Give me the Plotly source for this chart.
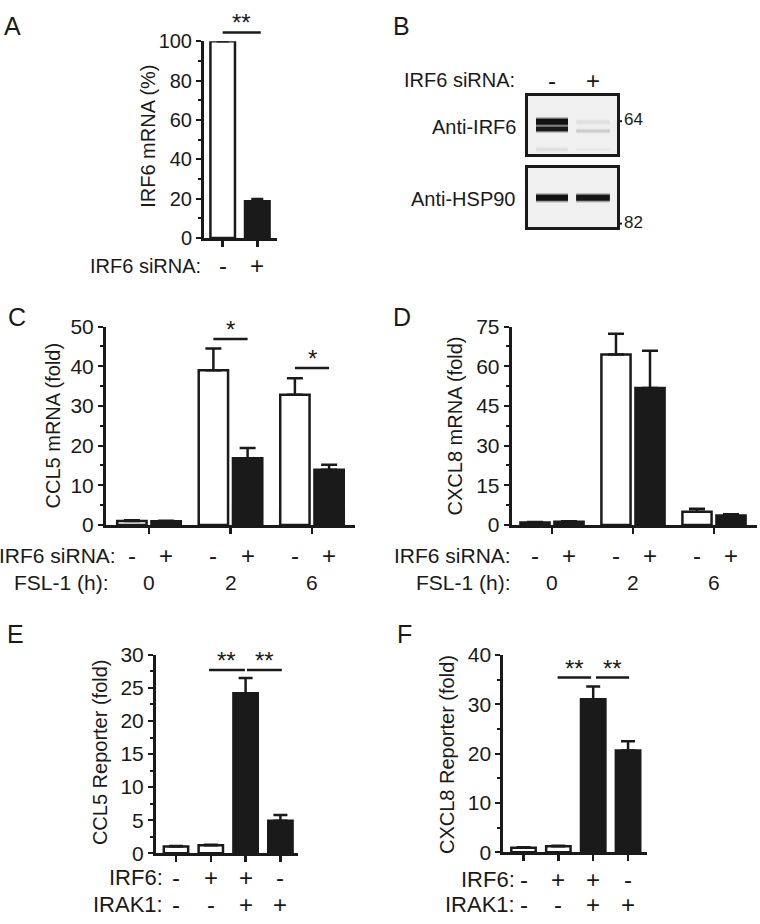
import plotly.graph_objects as go

W, H = 760, 924
FONT = "Liberation Sans, Arial, Helvetica, sans-serif"
INK = "#1a1a1a"

# ---------------- data ----------------
# Panel A: IRF6 mRNA (%)
a_sirna = ["-", "+"]
a_values = [100, 18.7]
a_err = [0, 1.1]
a_fill = ["white", INK]
a_sig = [(0.0, 1.1, 104.5, "**")]

# Panel C: CCL5 mRNA (fold)
c_fsl = ["0", "2", "6"]
c_ctrl = [1.0, 39.0, 32.8]
c_ctrl_err = [0.2, 5.5, 4.2]
c_si = [0.9, 16.8, 13.9]
c_si_err = [0.15, 2.6, 1.3]
c_sig = [(1, 46.9, "*"), (2, 39.6, "*")]

# Panel D: CXCL8 mRNA (fold)
d_fsl = ["0", "2", "6"]
d_ctrl = [0.9, 64.5, 5.0]
d_ctrl_err = [0.2, 7.8, 1.1]
d_si = [1.2, 51.8, 3.6]
d_si_err = [0.2, 14.1, 0.4]

# Panel E: CCL5 reporter (fold)
e_irf6 = ["-", "+", "+", "-"]
e_irak1 = ["-", "-", "+", "+"]
e_values = [1.0, 1.2, 24.2, 4.9]
e_err = [0.1, 0.1, 2.3, 0.9]
e_fill = ["white", "white", INK, INK]
e_sig = [(0.95, 1.98, 27.7, "**"), (2.04, 3.04, 27.7, "**")]

# Panel F: CXCL8 reporter (fold)
f_irf6 = ["-", "+", "+", "-"]
f_irak1 = ["-", "-", "+", "+"]
f_values = [0.9, 1.2, 31.0, 20.6]
f_err = [0.1, 0.1, 2.6, 1.9]
f_fill = ["white", "white", INK, INK]
f_sig = [(0.98, 1.94, 35.4, "**"), (2.08, 3.03, 35.4, "**")]

# Panel B: western blot (lane, migration position in box, band thickness, intensity)
b_sirna = ["-", "+"]
irf6_bands = [(0, 26.5, 5.5, 1.0), (0, 34.0, 4.0, 0.92), (1, 27.0, 3.5, 0.035),
              (1, 36.0, 2.5, 0.09), (0, 55.0, 2.5, 0.04), (1, 55.0, 2.0, 0.02)]
hsp90_bands = [(0, 30.0, 5.5, 1.0), (1, 30.0, 5.5, 0.95)]

GROUP_OFF = 0.21
GROUP_W = 0.36

# axis geometry (pixel domains and ranges)
A_DOM_Y, A_RANGE = (30, 231.7), [0, 100]
C_DOM_Y, C_RANGE = (322.7, 526), [0, 50]
D_DOM_Y, D_RANGE = (322.7, 526), [0, 75]
E_DOM_Y, E_RANGE = (659.3, 862.7), [0, 30]
F_DOM_Y, F_RANGE = (659.3, 861.7), [0, 40]


# ---------------- helpers ----------------
def xd(p0, p1):
    return [p0 / W, p1 / W]


def yd(top, bot):
    return [1 - bot / H, 1 - top / H]


def y_paper(dom_px, rng, val):
    d0, d1 = yd(*dom_px)
    return d0 + (val - rng[0]) / (rng[1] - rng[0]) * (d1 - d0)


def px_ann(text, xpx, ypx, size=20, xanchor="center", angle=0):
    return dict(text=text, x=xpx / W, y=1 - ypx / H, xref="paper", yref="paper",
                showarrow=False, xanchor=xanchor, yanchor="middle", textangle=angle,
                font=dict(family=FONT, size=size, color=INK))


def data_ann(text, xval, xref, ypx, size=24):
    return dict(text=text, x=xval, y=1 - ypx / H, xref=xref, yref="paper",
                showarrow=False, xanchor="center", yanchor="middle",
                font=dict(family=FONT, size=size, color=INK))


def bar(x, y, err, fill, width, ax, cap=7):
    return go.Bar(x=x, y=y, width=width, xaxis=ax[0], yaxis=ax[1],
                  marker=dict(color=fill, line=dict(color=INK, width=2.5)),
                  error_y=dict(type="data", array=err, arrayminus=[0] * len(err),
                               symmetric=False, color=INK, thickness=2.5, width=cap),
                  cliponaxis=False, showlegend=False, hoverinfo="skip")


shapes = []
ann = []


def sig(x0, x1, y, star, xref, dom_px, rng):
    yp = y_paper(dom_px, rng, y)
    shapes.append(dict(type="line", xref=xref, yref="paper", x0=x0, x1=x1, y0=yp, y1=yp,
                       line=dict(color=INK, width=2.5)))
    ann.append(dict(text=star, x=(x0 + x1) / 2, y=yp, xref=xref, yref="paper",
                    showarrow=False, xanchor="center", yanchor="bottom", yshift=-6,
                    font=dict(family=FONT, size=24, color=INK)))


fig = go.Figure()

# ---------------- Panel A ----------------
AX = ("x", "y")
fig.add_trace(bar(list(range(len(a_values))), a_values, a_err, a_fill, 0.71, AX, cap=6))
for x0, x1, y, s in a_sig:
    sig(x0, x1, y, s, "x", A_DOM_Y, A_RANGE)
ann.append(px_ann("IRF6 mRNA (%)", 148, 128, 20, angle=-90))
ann.append(px_ann("IRF6 siRNA:", 203, 260, 20, "right"))
for i, s in enumerate(a_sirna):
    ann.append(data_ann(s, i, "x", 260))

# ---------------- Panel C ----------------
CX = ("x2", "y2")
g = list(range(len(c_fsl)))
fig.add_trace(bar([k - GROUP_OFF for k in g], c_ctrl, c_ctrl_err, "white", GROUP_W, CX, cap=8))
fig.add_trace(bar([k + GROUP_OFF for k in g], c_si, c_si_err, INK, GROUP_W, CX, cap=8))
for k, y, s in c_sig:
    sig(k - GROUP_OFF, k + GROUP_OFF, y, s, "x2", C_DOM_Y, C_RANGE)
ann.append(px_ann("CCL5 mRNA (fold)", 53, 424, 20, angle=-90))
ann.append(px_ann("IRF6 siRNA:", 118, 557, 21, "right"))
ann.append(px_ann("FSL-1 (h):", 111, 585, 21, "right"))
for k, lab in enumerate(c_fsl):
    ann.append(data_ann("-", k - GROUP_OFF, "x2", 557))
    ann.append(data_ann("+", k + GROUP_OFF, "x2", 557))
    ann.append(data_ann(lab, k, "x2", 585, 21))

# ---------------- Panel D ----------------
DX = ("x3", "y3")
g = list(range(len(d_fsl)))
fig.add_trace(bar([k - GROUP_OFF for k in g], d_ctrl, d_ctrl_err, "white", GROUP_W, DX, cap=8))
fig.add_trace(bar([k + GROUP_OFF for k in g], d_si, d_si_err, INK, GROUP_W, DX, cap=8))
ann.append(px_ann("CXCL8 mRNA (fold)", 455, 425, 20, angle=-90))
ann.append(px_ann("IRF6 siRNA:", 513, 557, 21, "right"))
ann.append(px_ann("FSL-1 (h):", 513, 585, 21, "right"))
for k, lab in enumerate(d_fsl):
    ann.append(data_ann("-", k - GROUP_OFF, "x3", 557))
    ann.append(data_ann("+", k + GROUP_OFF, "x3", 557))
    ann.append(data_ann(lab, k, "x3", 585, 21))

# ---------------- Panel E ----------------
EX = ("x4", "y4")
fig.add_trace(bar(list(range(len(e_values))), e_values, e_err, e_fill, 0.70, EX))
for x0, x1, y, s in e_sig:
    sig(x0, x1, y, s, "x4", E_DOM_Y, E_RANGE)
ann.append(px_ann("CCL5 Reporter (fold)", 100, 759, 20, angle=-90))
ann.append(px_ann("IRF6:", 165, 888, 22, "right"))
ann.append(px_ann("IRAK1:", 165, 915, 22, "right"))
for i, (s1, s2) in enumerate(zip(e_irf6, e_irak1)):
    ann.append(data_ann(s1, i, "x4", 888))
    ann.append(data_ann(s2, i, "x4", 915))

# ---------------- Panel F ----------------
FX = ("x5", "y5")
fig.add_trace(bar(list(range(len(f_values))), f_values, f_err, f_fill, 0.70, FX))
for x0, x1, y, s in f_sig:
    sig(x0, x1, y, s, "x5", F_DOM_Y, F_RANGE)
ann.append(px_ann("CXCL8 Reporter (fold)", 447, 762, 20, angle=-90))
ann.append(px_ann("IRF6:", 517, 890, 22, "right"))
ann.append(px_ann("IRAK1:", 517, 915, 22, "right"))
for i, (s1, s2) in enumerate(zip(f_irf6, f_irak1)):
    ann.append(data_ann(s1, i, "x5", 890))
    ann.append(data_ann(s2, i, "x5", 915))


# ---------------- Panel B (blot) ----------------
def bands(blist, ax):
    out = []
    for lane, pos, thick, inten in blist:
        half = 0.39 if lane == 0 else 0.41
        for extra, alpha in ((4.0, 0.25 * inten), (1.5, 0.55 * inten), (0.0, 0.95 * inten)):
            out.append(go.Scatter(x=[lane - half, lane + half], y=[pos, pos], mode="lines",
                                  xaxis=ax[0], yaxis=ax[1],
                                  line=dict(color=f"rgba(15,15,15,{alpha:.3f})", width=thick + extra),
                                  showlegend=False, hoverinfo="skip"))
    return out


fig.add_traces(bands(irf6_bands, ("x6", "y6")))
fig.add_traces(bands(hsp90_bands, ("x7", "y7")))
ann.append(px_ann("IRF6 siRNA:", 517, 70, 20, "right"))
for i, s in enumerate(b_sirna):
    ann.append(data_ann(s, i, "x6", 70))
ann.append(px_ann("Anti-IRF6", 518, 118, 20, "right"))
ann.append(px_ann("Anti-HSP90", 518, 192, 20, "right"))
ann.append(px_ann("64", 622, 110, 17, "left"))
ann.append(px_ann("82", 622, 216, 17, "left"))

for ax in ("x6", "x7"):
    yax = "y" + ax[1:]
    shapes.append(dict(type="rect", xref=f"{ax} domain", yref=f"{yax} domain",
                       x0=0, x1=1, y0=0, y1=1, fillcolor="#f0f0f0", line=dict(width=0),
                       layer="below"))
for ypx in (112, 217):
    shapes.append(dict(type="line", xref="paper", yref="paper", x0=617 / W, x1=622 / W,
                       y0=1 - ypx / H, y1=1 - ypx / H, line=dict(color=INK, width=2)))

# ---------------- panel letters ----------------
for L, xp, yp in (("A", 2, 14), ("B", 391, 14), ("C", 6, 313), ("D", 391, 313),
                  ("E", 5, 638), ("F", 395, 638)):
    ann.append(px_ann(L, xp, yp, 25, "left"))


# ---------------- axes ----------------
def xaxis(dom, rng, tickvals, anchor):
    return dict(domain=xd(*dom), range=rng, showline=True, linecolor=INK, linewidth=3,
                ticks="outside", ticklen=6, tickwidth=2.5, tickcolor=INK,
                tickvals=tickvals, showticklabels=False, showgrid=False, zeroline=False,
                fixedrange=True, anchor=anchor)


def yaxis(dom, rng, dtick, anchor, size=20):
    return dict(domain=yd(*dom), range=rng, showline=True, linecolor=INK, linewidth=3,
                ticks="outside", ticklen=5, tickwidth=2, tickcolor=INK, dtick=dtick,
                tick0=0, tickfont=dict(family=FONT, size=size, color=INK),
                minor=dict(dtick=dtick / 2, ticklen=3, tickwidth=2, tickcolor=INK,
                           ticks="outside", showgrid=False),
                showgrid=False, zeroline=False, anchor=anchor, fixedrange=True)


def blotaxes(dom_x, dom_y, anchor_x, anchor_y):
    xa = dict(domain=xd(*dom_x), range=[(dom_x[0] - 552) / 41, (dom_x[1] - 552) / 41],
              showline=True, mirror=True, linecolor=INK, linewidth=3, ticks="",
              showticklabels=False, showgrid=False, zeroline=False, fixedrange=True,
              anchor=anchor_x)
    ya = dict(domain=yd(*dom_y), range=[60, 0], showline=True, mirror=True, linecolor=INK,
              linewidth=3, ticks="", showticklabels=False, showgrid=False, zeroline=False,
              fixedrange=True, anchor=anchor_y)
    return xa, ya


x6, y6 = blotaxes((528, 617), (86, 146), "y6", "x6")
x7, y7 = blotaxes((528, 617), (160, 221), "y7", "x7")

fig.update_layout(
    width=W, height=H, autosize=False,
    margin=dict(l=0, r=0, t=0, b=0, pad=0),
    paper_bgcolor="white", plot_bgcolor="white",
    font=dict(family=FONT, size=20, color=INK),
    showlegend=False, barmode="overlay",
    xaxis=xaxis((204, 277), [(204 - 222.7) / 34.6, (277 - 222.7) / 34.6], [0, 1], "y"),
    yaxis=yaxis(A_DOM_Y, A_RANGE, 20, "x"),
    xaxis2=xaxis((106, 355), [(106 - 149) / 81.5, (355 - 149) / 81.5], [0, 1, 2], "y2"),
    yaxis2=yaxis(C_DOM_Y, C_RANGE, 10, "x2", 21),
    xaxis3=xaxis((511.7, 756.7), [(511.7 - 552) / 81, (756.7 - 552) / 81], [0, 1, 2], "y3"),
    yaxis3=yaxis(D_DOM_Y, D_RANGE, 15, "x3", 21),
    xaxis4=xaxis((156, 298), [(156 - 176) / 34.8, (298 - 176) / 34.8], [0, 1, 2, 3], "y4"),
    yaxis4=yaxis(E_DOM_Y, E_RANGE, 5, "x4", 21),
    xaxis5=xaxis((503.3, 646.7), [(503.3 - 523.5) / 34.85, (646.7 - 523.5) / 34.85], [0, 1, 2, 3], "y5"),
    yaxis5=yaxis(F_DOM_Y, F_RANGE, 10, "x5", 21),
    xaxis6=x6, yaxis6=y6, xaxis7=x7, yaxis7=y7,
    annotations=ann, shapes=shapes,
)

fig.write_html("out.html", config={"displayModeBar": False, "staticPlot": True},
               post_script="document.body.style.margin='0';document.body.style.padding='0';"
                           "document.body.style.overflow='hidden';")
